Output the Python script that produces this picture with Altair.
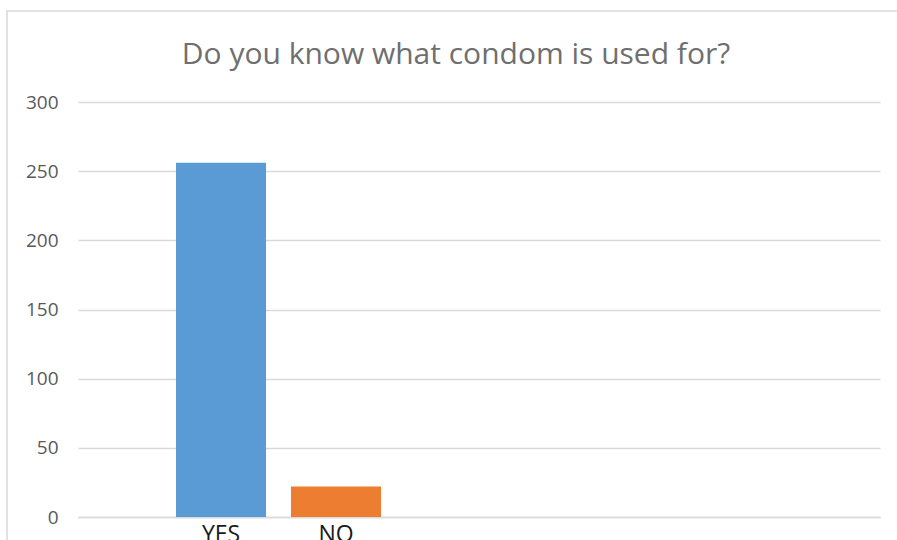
import altair as alt
import pandas as pd

categories = ["YES", "NO"]
values = [256, 22]
colors = ["#5B9BD5", "#ED7D31"]
# empty slots on the category axis (unlabelled, no data)
empty_slots = [" ", "  ", "   ", "    "]
y_ticks = [0, 50, 100, 150, 200, 250, 300]
title_text = "Do you know what condom is used for?"

df = pd.DataFrame({"answer": categories, "count": values})
x_domain = categories + empty_slots

frame = alt.Chart(df).mark_rect(
    fill=None, stroke="#d9d9d9", strokeWidth=1.5
).encode(
    x=alt.value(-71), x2=alt.value(860), y=alt.value(-91), y2=alt.value(480)
).transform_filter(alt.datum.answer == "YES")

bars = alt.Chart(df).mark_bar().encode(
    x=alt.X(
        "answer:N",
        scale=alt.Scale(domain=x_domain, paddingInner=0.217,
                        paddingOuter=0.596, align=0.715),
        axis=alt.Axis(title=None, labelAngle=0, labelFont="Open Sans",
                      labelFontSize=23, labelColor="#1a1a1a", ticks=False,
                      domain=True, domainColor="#d9d9d9", domainWidth=1.5,
                      labelPadding=6, grid=False),
    ),
    y=alt.Y(
        "count:Q",
        scale=alt.Scale(domain=[0, 300], nice=False),
        axis=alt.Axis(title=None, values=y_ticks, labelFont="Open Sans",
                      labelFontSize=19, labelColor="#595959", ticks=False,
                      domain=False, labelPadding=20, gridColor="#d9d9d9",
                      gridWidth=1.5),
    ),
    color=alt.Color("answer:N", scale=alt.Scale(domain=categories, range=colors),
                    legend=None),
)

chart = alt.layer(frame, bars).properties(
    width=802,
    height=415,
    padding={"left": 78, "top": 102, "right": 17, "bottom": 23},
    autosize=alt.AutoSizeParams(type="none"),
    title=alt.TitleParams(
        text=title_text, font="Open Sans", fontSize=30, fontWeight="normal",
        color="#6f6f6f", anchor="middle", dx=-23, offset=-60,
    ),
).configure_view(stroke=None)

chart.save("out.html", embed_options={"renderer": "svg", "actions": False})
